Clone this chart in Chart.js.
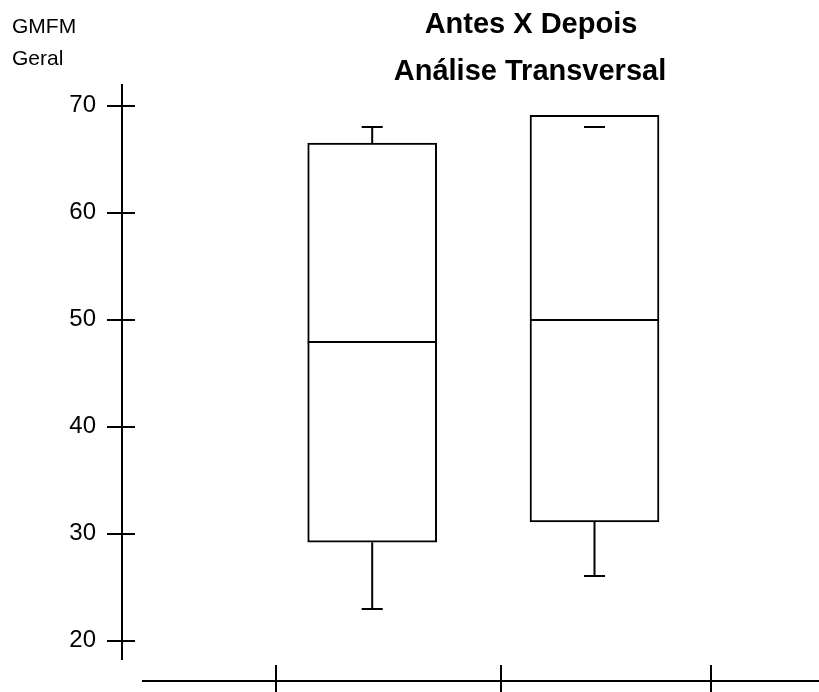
<!DOCTYPE html>
<html><head><meta charset="utf-8">
<script src="https://cdn.jsdelivr.net/npm/chart.js@4/dist/chart.umd.min.js"></script>
<style>html,body{margin:0;padding:0;background:#fff}#wrap{width:819px;height:692px}</style>
</head><body><div id="wrap"><canvas id="c" width="819" height="692"></canvas></div>
<script>
const categories = ['Antes', 'Depois'];
const boxPositions = [1, 2];
const minValues = [23, 26];
const q1Values = [29.2, 31.1];
const medianValues = [47.9, 50];
const q3Values = [66.5, 69.1];
const maxValues = [68, 68];
const yTickValues = [20, 30, 40, 50, 60, 70];
const xTickPositions = [0.567, 1.578, 2.523];
const titleLines = ['Antes X Depois', 'Análise Transversal'];
const yAxisTitleLines = ['GMFM', 'Geral'];

const INK = '#000';
const FONT = 'Liberation Sans, Arial, sans-serif';

const boxPlugin = {
  id: 'boxExtras',
  afterDatasetsDraw(chart) {
    const {ctx, scales: {x, y}, chartArea} = chart;
    ctx.save();
    ctx.strokeStyle = INK;
    ctx.lineWidth = 2;
    const line = (x1, y1, x2, y2) => { ctx.beginPath(); ctx.moveTo(x1, y1); ctx.lineTo(x2, y2); ctx.stroke(); };
    const halfBox = 64.5, halfCap = 10.5;
    boxPositions.forEach((pos, i) => {
      const px = x.getPixelForValue(pos);
      const ym = Math.round(y.getPixelForValue(medianValues[i]));
      line(px - halfBox, ym, px + halfBox, ym);
      const yq3 = y.getPixelForValue(q3Values[i]);
      const yq1 = y.getPixelForValue(q1Values[i]);
      const yMax = Math.round(y.getPixelForValue(maxValues[i]));
      const yMin = Math.round(y.getPixelForValue(minValues[i]));
      if (maxValues[i] > q3Values[i]) line(px, yq3, px, yMax);
      line(px - halfCap, yMax, px + halfCap, yMax);
      if (minValues[i] < q1Values[i]) line(px, yq1, px, yMin);
      line(px - halfCap, yMin, px + halfCap, yMin);
    });
    // y axis crossing ticks
    const ax = chartArea.left;
    yTickValues.forEach(v => {
      const yy = Math.round(y.getPixelForValue(v));
      line(ax - 15, yy, ax + 13, yy);
    });
    // detached x axis
    const axisY = Math.round(chartArea.bottom + 22);
    line(142, axisY, chart.width, axisY);
    xTickPositions.forEach(t => {
      const xx = Math.round(x.getPixelForValue(t));
      line(xx, axisY - 16, xx, axisY + 14);
    });
    ctx.restore();
  },
  afterDraw(chart) {
    const {ctx} = chart;
    ctx.save();
    ctx.fillStyle = INK;
    ctx.textBaseline = 'alphabetic';
    ctx.textAlign = 'center';
    ctx.font = 'bold 29px ' + FONT;
    ctx.fillText(titleLines[0], 531, 33);
    ctx.fillText(titleLines[1], 530, 80);
    ctx.textAlign = 'left';
    ctx.font = '21px ' + FONT;
    ctx.fillText(yAxisTitleLines[0], 12, 33);
    ctx.fillText(yAxisTitleLines[1], 12, 65);
    ctx.restore();
  }
};

new Chart(document.getElementById('c'), {
  type: 'bar',
  data: {
    labels: categories,
    datasets: [{
      label: 'GMFM Geral',
      data: boxPositions.map((p, i) => ({x: p, y: [q1Values[i], q3Values[i]]})),
      backgroundColor: '#fff',
      borderColor: INK,
      borderWidth: 2,
      borderSkipped: false,
      barThickness: 129
    }]
  },
  options: {
    responsive: false,
    animation: false,
    devicePixelRatio: 1,
    layout: {padding: {top: 85, bottom: 32.7, left: 0, right: 0}},
    plugins: {legend: {display: false}, tooltip: {enabled: false}, title: {display: false}},
    scales: {
      x: {type: 'linear', min: -0.1255, max: 3.0099, offset: false, grid: {offset: false}, display: false},
      y: {
        type: 'linear', min: 18.26, max: 71.93,
        afterBuildTicks: s => { s.ticks = yTickValues.map(v => ({value: v})); },
        afterFit: s => { s.width = 122; s.paddingTop = 0; s.paddingBottom = 0; },
        grid: {display: false, drawTicks: false},
        border: {display: true, color: INK, width: 2},
        ticks: {padding: 26, color: INK, font: {family: FONT, size: 24}}
      }
    }
  },
  plugins: [boxPlugin]
});
</script>
</body></html>
